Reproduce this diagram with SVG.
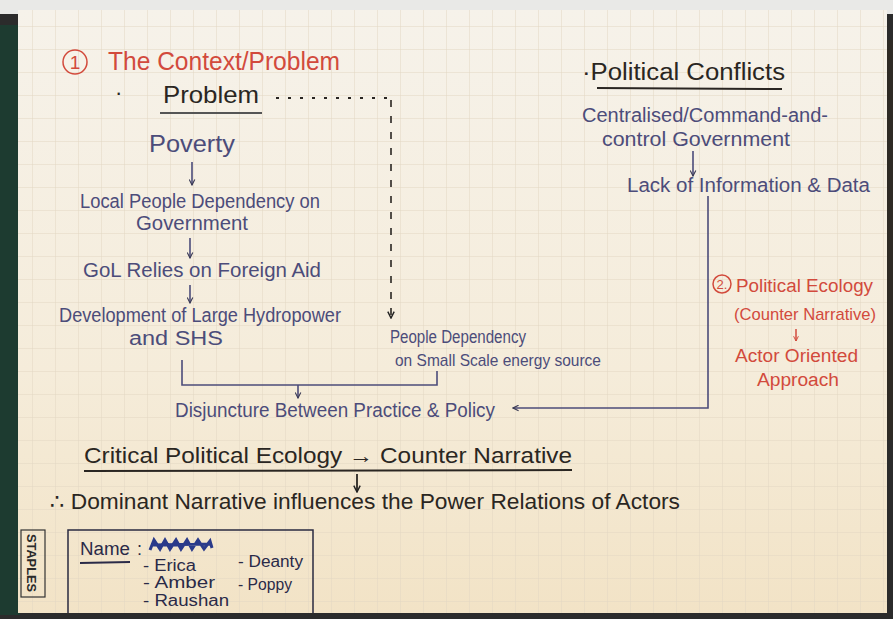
<svg xmlns="http://www.w3.org/2000/svg" width="893" height="619" viewBox="0 0 893 619">
<defs>
<linearGradient id="paper" x1="0" y1="0" x2="0" y2="1">
<stop offset="0" stop-color="#f6f2ea"/>
<stop offset="0.6" stop-color="#f5ecda"/>
<stop offset="1" stop-color="#f2e3c6"/>
</linearGradient>
<pattern id="grid" width="23" height="23" patternUnits="userSpaceOnUse" x="10" y="4">
<path d="M23 0V23M0 23H23" fill="none" stroke="#e2d7c3" stroke-width="1"/>
</pattern>
<marker id="ah" viewBox="0 0 10 10" refX="9" refY="5" markerWidth="7" markerHeight="7" orient="auto-start-reverse" markerUnits="userSpaceOnUse">
<path d="M1 1L9 5L1 9" fill="none" stroke="#3a3a55" stroke-width="1.6"/>
</marker>
<marker id="ahk" viewBox="0 0 10 10" refX="9" refY="5" markerWidth="8" markerHeight="8" orient="auto" markerUnits="userSpaceOnUse">
<path d="M1 1L9 5L1 9" fill="none" stroke="#222" stroke-width="1.8"/>
</marker>
<marker id="ahr" viewBox="0 0 10 10" refX="9" refY="5" markerWidth="6" markerHeight="6" orient="auto" markerUnits="userSpaceOnUse">
<path d="M1 1L9 5L1 9" fill="none" stroke="#d24a3c" stroke-width="1.6"/>
</marker>
</defs>
<style>
text{font-family:"Liberation Sans","DejaVu Sans",sans-serif;}
.b{fill:#4c4c7a;font-size:20px;}
.k{fill:#2a2622;font-size:22px;}
.r{fill:#d24a3c;font-size:18px;}
.n{fill:#2a2a48;font-size:16px;}
.lb{fill:none;stroke:#4c4c7a;stroke-width:1.6;}
.lk{fill:none;stroke:#2a2622;stroke-width:2;}
.lr{fill:none;stroke:#d24a3c;stroke-width:1.5;}
</style>
<rect width="893" height="619" fill="#2b2b2b"/>
<rect x="0" y="0" width="893" height="14" fill="#e9e9e7"/>
<rect x="0" y="25" width="20" height="590" fill="#1d3b30"/>
<rect x="18" y="10" width="869" height="603" fill="url(#paper)"/>
<rect x="18" y="10" width="869" height="603" fill="url(#grid)"/>
<rect x="887" y="40" width="6" height="400" fill="#2e2a24"/>

<g id="title">
<circle cx="75" cy="62" r="12" class="lr"/>
<text x="75" y="69" class="r" style="font-size:19px" text-anchor="middle">1</text>
<text x="108" y="70" class="r" style="font-size:25px" textLength="232" lengthAdjust="spacingAndGlyphs">The Context/Problem</text>
</g>

<g id="problem">
<text x="115" y="100" class="k">·</text>
<text x="163" y="103" class="k" style="font-size:24px" textLength="96" lengthAdjust="spacingAndGlyphs">Problem</text>
<line x1="160" y1="113" x2="262" y2="113" class="lk" style="stroke:#555"/>
</g>

<g id="poverty"><text x="192" y="152" class="b" style="font-size:24px" text-anchor="middle" textLength="86" lengthAdjust="spacingAndGlyphs">Poverty</text></g>
<g id="dependency-gov">
<text x="200" y="208" class="b" text-anchor="middle" textLength="240" lengthAdjust="spacingAndGlyphs">Local People Dependency on</text>
<text x="192" y="230" class="b" text-anchor="middle" textLength="112" lengthAdjust="spacingAndGlyphs">Government</text>
</g>
<g id="gol"><text x="202" y="277" class="b" text-anchor="middle" textLength="238" lengthAdjust="spacingAndGlyphs">GoL Relies on Foreign Aid</text></g>
<g id="development">
<text x="200" y="322" class="b" text-anchor="middle" textLength="282" lengthAdjust="spacingAndGlyphs">Development of Large Hydropower</text>
<text x="176" y="345" class="b" text-anchor="middle" textLength="94" lengthAdjust="spacingAndGlyphs">and SHS</text>
</g>
<g id="people-dependency">
<text x="390" y="343" class="b" style="font-size:18px" textLength="136" lengthAdjust="spacingAndGlyphs">People Dependency</text>
<text x="395" y="366" class="b" style="font-size:17px" textLength="206" lengthAdjust="spacingAndGlyphs">on Small Scale energy source</text>
</g>
<g id="disjuncture"><text x="175" y="417" class="b" textLength="320" lengthAdjust="spacingAndGlyphs">Disjuncture Between Practice &amp; Policy</text></g>

<g id="political-conflicts">
<text x="582" y="80" class="k" style="font-size:23px" textLength="203" lengthAdjust="spacingAndGlyphs">·Political Conflicts</text>
<line x1="597" y1="88" x2="782" y2="89" class="lk"/>
</g>
<g id="centralised">
<text x="705" y="122" class="b" text-anchor="middle" textLength="246" lengthAdjust="spacingAndGlyphs">Centralised/Command-and-</text>
<text x="696" y="146" class="b" text-anchor="middle" textLength="188" lengthAdjust="spacingAndGlyphs">control Government</text>
</g>
<g id="lack"><text x="627" y="192" class="b" textLength="243" lengthAdjust="spacingAndGlyphs">Lack of Information &amp; Data</text></g>

<g id="political-ecology">
<circle cx="722" cy="284" r="9" class="lr"/>
<text x="722" y="289" class="r" style="font-size:13px" text-anchor="middle">2.</text>
<text x="736" y="292" class="r" textLength="137" lengthAdjust="spacingAndGlyphs">Political Ecology</text>
<text x="734" y="320" class="r" style="font-size:17px" textLength="142" lengthAdjust="spacingAndGlyphs">(Counter Narrative)</text>
</g>
<g id="actor-oriented">
<text x="735" y="362" class="r" textLength="123" lengthAdjust="spacingAndGlyphs">Actor Oriented</text>
<text x="757" y="386" class="r" textLength="82" lengthAdjust="spacingAndGlyphs">Approach</text>
</g>

<g id="critical">
<text x="84" y="463" class="k" textLength="488" lengthAdjust="spacingAndGlyphs">Critical Political Ecology → Counter Narrative</text>
<line x1="84" y1="471" x2="572" y2="470" class="lk"/>
</g>
<g id="dominant"><text x="50" y="509" class="k" textLength="630" lengthAdjust="spacingAndGlyphs">∴ Dominant Narrative influences the Power Relations of Actors</text></g>

<g id="staples">
<rect x="21" y="530" width="24" height="67" fill="none" stroke="#333" stroke-width="1.2"/>
<text x="0" y="0" transform="translate(27 534) rotate(90)" font-size="13" font-weight="bold" fill="#2a2a2a" textLength="58" lengthAdjust="spacingAndGlyphs">STAPLES</text>
</g>
<g id="names">
<path d="M68 613V530H313V613" fill="none" stroke="#2a2a40" stroke-width="1.5"/>
<text x="80" y="555" class="n" style="font-size:18px" textLength="50" lengthAdjust="spacingAndGlyphs">Name</text>
<text x="137" y="555" class="n" style="font-size:18px">:</text>
<line x1="80" y1="563" x2="130" y2="562" stroke="#2a2a48" stroke-width="2"/>
<path d="M150 550L154 540L160 549L165 540L170 549L176 540L181 549L187 540L192 549L198 540L204 549L210 541L212 548M152 545L212 544" fill="none" stroke="#2a3a8a" stroke-width="3"/>
<text x="143" y="571" class="n" textLength="53" lengthAdjust="spacingAndGlyphs">- Erica</text>
<text x="143" y="588" class="n" textLength="72" lengthAdjust="spacingAndGlyphs">- Amber</text>
<text x="143" y="606" class="n" textLength="86" lengthAdjust="spacingAndGlyphs">- Raushan</text>
<text x="238" y="567" class="n" textLength="65" lengthAdjust="spacingAndGlyphs">- Deanty</text>
<text x="238" y="590" class="n" textLength="54" lengthAdjust="spacingAndGlyphs">- Poppy</text>
</g>

<g id="connectors">
<line x1="192" y1="162" x2="192" y2="185" class="lb" marker-end="url(#ah)"/>
<line x1="190" y1="238" x2="190" y2="258" class="lb" marker-end="url(#ah)"/>
<line x1="190" y1="285" x2="190" y2="303" class="lb" marker-end="url(#ah)"/>
<path d="M276 98H390" fill="none" stroke="#2a2622" stroke-width="2" stroke-dasharray="3 9"/>
<path d="M391 100V318" fill="none" stroke="#2a2622" stroke-width="1.6" stroke-dasharray="7 9" marker-end="url(#ahk)"/>
<path d="M182 360V385H437V371" class="lb"/>
<line x1="298" y1="385" x2="298" y2="398" class="lb" marker-end="url(#ah)"/>
<line x1="693" y1="151" x2="693" y2="176" class="lb" marker-end="url(#ah)"/>
<path d="M708 196V408H513" class="lb" marker-end="url(#ah)"/>
<line x1="796" y1="329" x2="796" y2="341" class="lr" marker-end="url(#ahr)"/>
<line x1="357" y1="474" x2="357" y2="492" stroke="#2a2622" stroke-width="1.8" marker-end="url(#ahk)"/>
</g>
</svg>
